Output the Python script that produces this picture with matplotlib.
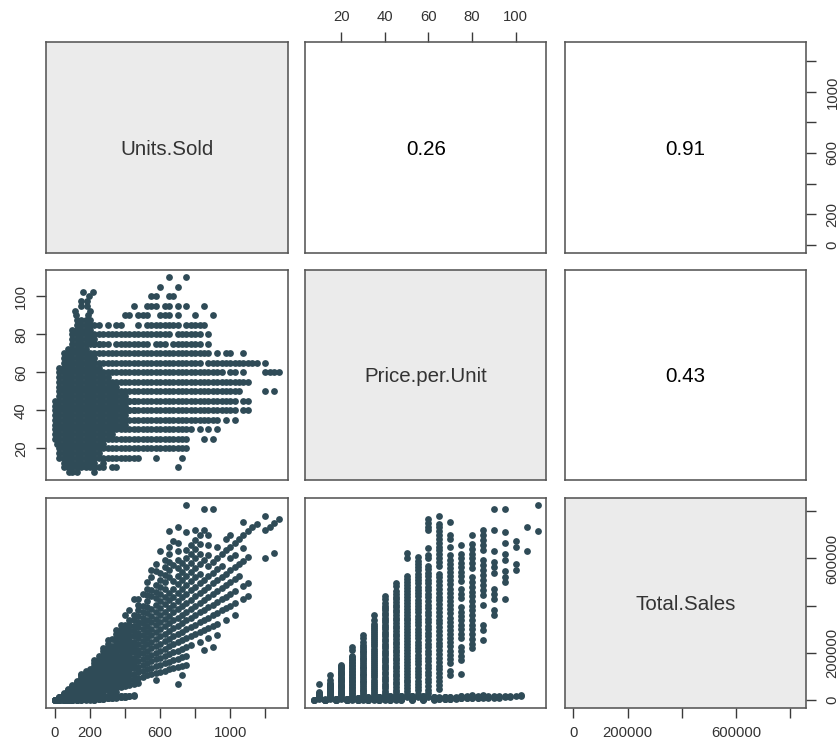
import matplotlib
matplotlib.use('Agg')
import matplotlib.pyplot as plt

plt.rcParams['font.family'] = ['Liberation Sans', 'DejaVu Sans']

# Rows: prices in steps of 5, sales on the fan
row_price = [10, 15, 20, 25, 30, 35, 40, 45, 50, 55, 60, 65, 70, 75, 80, 85, 90, 95, 100, 105, 110]

row_units = [
    [50, 75, 100, 125, 150, 175, 200, 225, 250, 275, 325, 350, 700],
    [25, 50, 75, 100, 125, 150, 175, 200, 225, 250, 275, 300, 325, 350, 375, 400, 425, 450, 475, 575, 725],
    [25, 50, 75, 100, 125, 150, 175, 200, 225, 250, 275, 300, 325, 350, 375, 400, 425, 450, 475, 500, 525, 550, 575, 600, 625, 650, 675, 700, 725, 750],
    [0, 25, 50, 75, 100, 125, 150, 175, 200, 225, 250, 275, 300, 325, 350, 375, 400, 425, 450, 475, 500, 525, 550, 575, 600, 625, 650, 675, 700, 725, 750, 850, 900],
    [0, 25, 50, 75, 100, 125, 150, 175, 200, 225, 250, 275, 300, 325, 350, 375, 400, 425, 450, 475, 500, 525, 550, 575, 600, 625, 650, 675, 700, 725, 750, 775, 825, 875, 925],
    [0, 25, 50, 75, 100, 125, 150, 175, 200, 225, 250, 275, 300, 325, 350, 375, 400, 425, 450, 475, 500, 525, 550, 575, 600, 625, 650, 675, 700, 725, 750, 775, 800, 825, 850, 875, 900, 925, 975, 1025],
    [0, 25, 50, 75, 100, 125, 150, 175, 200, 225, 250, 275, 300, 325, 350, 375, 400, 425, 450, 475, 500, 525, 550, 575, 600, 625, 650, 675, 700, 725, 750, 775, 800, 825, 850, 875, 900, 925, 950, 975, 1000, 1025, 1075, 1100],
    [0, 25, 50, 75, 100, 125, 150, 175, 200, 225, 250, 275, 300, 325, 350, 375, 400, 425, 450, 475, 500, 525, 550, 575, 600, 625, 650, 675, 700, 725, 750, 775, 800, 825, 850, 875, 900, 925, 950, 975, 1000, 1025, 1075, 1100],
    [25, 50, 75, 100, 125, 150, 175, 200, 225, 250, 275, 300, 325, 350, 375, 400, 425, 450, 475, 500, 525, 550, 575, 600, 625, 650, 675, 700, 725, 750, 775, 800, 825, 850, 875, 900, 925, 950, 975, 1000, 1025, 1050, 1200, 1250],
    [25, 50, 75, 100, 125, 150, 175, 200, 225, 250, 275, 300, 325, 350, 375, 400, 425, 450, 475, 500, 525, 550, 575, 600, 625, 650, 675, 700, 725, 750, 775, 800, 825, 850, 875, 900, 925, 950, 975, 1000, 1025, 1050, 1075, 1100],
    [25, 50, 75, 100, 125, 150, 175, 200, 225, 250, 275, 300, 325, 350, 375, 400, 425, 450, 475, 500, 525, 550, 575, 600, 625, 650, 675, 700, 725, 750, 775, 800, 825, 850, 875, 900, 925, 950, 1000, 1025, 1075, 1200, 1225, 1250, 1275],
    [75, 100, 125, 150, 175, 200, 225, 250, 275, 300, 325, 350, 375, 400, 425, 450, 475, 500, 525, 550, 575, 600, 625, 650, 675, 700, 725, 750, 775, 800, 825, 875, 900, 925, 950, 975, 1000, 1025, 1050, 1075, 1100, 1125, 1150, 1200],
    [150, 175, 225, 250, 275, 300, 325, 350, 375, 400, 425, 450, 475, 500, 525, 550, 575, 600, 625, 650, 675, 700, 725, 750, 775, 800, 825, 850, 875, 925, 975, 1000, 1075],
    [150, 225, 250, 275, 300, 350, 375, 400, 425, 450, 475, 500, 525, 575, 600, 625, 675, 700, 725, 750, 775, 800, 825, 875],
    [275, 300, 325, 350, 375, 400, 425, 450, 475, 500, 525, 550, 575, 600, 625, 650, 700, 725, 750, 775, 800, 825, 875],
    [300, 350, 375, 475, 525, 550, 575, 600, 625, 650, 675, 700, 750, 775, 800, 825, 850],
    [400, 425, 475, 500, 525, 600, 625, 650, 700, 800, 900],
    [450, 525, 550, 575, 625, 650, 700, 750, 850],
    [550, 575, 650, 675],
    [600, 700],
    [650, 750],
]

row_sales = [
    [5000, 7500, 10000, 12500, 15000, 17500, 20000, 22500, 25000, 27500, 32500, 35000, 70000],
    [3750, 7500, 11250, 15000, 18750, 22500, 26250, 30000, 33750, 37500, 41250, 45000, 48750, 52500, 56250, 60000, 63750, 67500, 71250, 86250, 108750],
    [5000, 10000, 15000, 20000, 25000, 30000, 35000, 40000, 45000, 50000, 55000, 60000, 65000, 70000, 75000, 80000, 85000, 90000, 95000, 100000, 105000, 110000, 115000, 120000, 125000, 130000, 135000, 140000, 145000, 150000],
    [0, 6250, 12500, 18750, 25000, 31250, 37500, 43750, 50000, 56250, 62500, 68750, 75000, 81250, 87500, 93750, 100000, 106250, 112500, 118750, 125000, 131250, 137500, 143750, 150000, 156250, 162500, 168750, 175000, 181250, 187500, 212500, 225000],
    [0, 7500, 15000, 22500, 30000, 37500, 45000, 52500, 60000, 67500, 75000, 82500, 90000, 97500, 105000, 112500, 120000, 127500, 135000, 142500, 150000, 157500, 165000, 172500, 180000, 187500, 195000, 202500, 210000, 217500, 225000, 232500, 247500, 262500, 277500],
    [0, 8750, 17500, 26250, 35000, 43750, 52500, 61250, 70000, 78750, 87500, 96250, 105000, 113750, 122500, 131250, 140000, 148750, 157500, 166250, 175000, 183750, 192500, 201250, 210000, 218750, 227500, 236250, 245000, 253750, 262500, 271250, 280000, 288750, 297500, 306250, 315000, 323750, 341250, 358750],
    [0, 10000, 20000, 30000, 40000, 50000, 60000, 70000, 80000, 90000, 100000, 110000, 120000, 130000, 140000, 150000, 160000, 170000, 180000, 190000, 200000, 210000, 220000, 230000, 240000, 250000, 260000, 270000, 280000, 290000, 300000, 310000, 320000, 330000, 340000, 350000, 360000, 370000, 380000, 390000, 400000, 410000, 430000, 440000],
    [0, 11250, 22500, 33750, 45000, 56250, 67500, 78750, 90000, 101250, 112500, 123750, 135000, 146250, 157500, 168750, 180000, 191250, 202500, 213750, 225000, 236250, 247500, 258750, 270000, 281250, 292500, 303750, 315000, 326250, 337500, 348750, 360000, 371250, 382500, 393750, 405000, 416250, 427500, 438750, 450000, 461250, 483750, 495000],
    [12500, 25000, 37500, 50000, 62500, 75000, 87500, 100000, 112500, 125000, 137500, 150000, 162500, 175000, 187500, 200000, 212500, 225000, 237500, 250000, 262500, 275000, 287500, 300000, 312500, 325000, 337500, 350000, 362500, 375000, 387500, 400000, 412500, 425000, 437500, 450000, 462500, 475000, 487500, 500000, 512500, 525000, 600000, 625000],
    [13750, 27500, 41250, 55000, 68750, 82500, 96250, 110000, 123750, 137500, 151250, 165000, 178750, 192500, 206250, 220000, 233750, 247500, 261250, 275000, 288750, 302500, 316250, 330000, 343750, 357500, 371250, 385000, 398750, 412500, 426250, 440000, 453750, 467500, 481250, 495000, 508750, 522500, 536250, 550000, 563750, 577500, 591250, 605000],
    [15000, 30000, 45000, 60000, 75000, 90000, 105000, 120000, 135000, 150000, 165000, 180000, 195000, 210000, 225000, 240000, 255000, 270000, 285000, 300000, 315000, 330000, 345000, 360000, 375000, 390000, 405000, 420000, 435000, 450000, 465000, 480000, 495000, 510000, 525000, 540000, 555000, 570000, 600000, 615000, 645000, 720000, 735000, 750000, 765000],
    [48750, 65000, 81250, 97500, 113750, 130000, 146250, 162500, 178750, 195000, 211250, 227500, 243750, 260000, 276250, 292500, 308750, 325000, 341250, 357500, 373750, 390000, 406250, 422500, 438750, 455000, 471250, 487500, 503750, 520000, 536250, 568750, 585000, 601250, 617500, 633750, 650000, 666250, 682500, 698750, 715000, 731250, 747500, 780000],
    [105000, 122500, 157500, 175000, 192500, 210000, 227500, 245000, 262500, 280000, 297500, 315000, 332500, 350000, 367500, 385000, 402500, 420000, 437500, 455000, 472500, 490000, 507500, 525000, 542500, 560000, 577500, 595000, 612500, 647500, 682500, 700000, 752500],
    [112500, 168750, 187500, 206250, 225000, 262500, 281250, 300000, 318750, 337500, 356250, 375000, 393750, 431250, 450000, 468750, 506250, 525000, 543750, 562500, 581250, 600000, 618750, 656250],
    [220000, 240000, 260000, 280000, 300000, 320000, 340000, 360000, 380000, 400000, 420000, 440000, 460000, 480000, 500000, 520000, 560000, 580000, 600000, 620000, 640000, 660000, 700000],
    [255000, 297500, 318750, 403750, 446250, 467500, 488750, 510000, 531250, 552500, 573750, 595000, 637500, 658750, 680000, 701250, 722500],
    [360000, 382500, 427500, 450000, 472500, 540000, 562500, 585000, 630000, 720000, 810000],
    [427500, 498750, 522500, 546250, 593750, 617500, 665000, 712500, 807500],
    [550000, 575000, 650000, 675000],
    [630000, 735000],
    [715000, 825000],
]

# Low band: the points that fill the solid blob but stay near zero sales
band_price = [7.5, 12.5, 17.5, 22.5, 27.5, 32.5, 37.5, 40, 42.5, 45, 47.5, 52.5, 57.5, 62.5, 65, 67.5, 70, 72.5, 75, 77.5, 80, 82.5, 85, 87.5, 90, 92.5, 95, 97.5, 100, 102.5]

band_units = [
    [80, 100, 125, 225],
    [50, 75, 100, 125, 150, 175, 200, 225, 275],
    [25, 50, 75, 100, 125, 150, 175, 200, 225, 250],
    [10, 25, 50, 75, 100, 125, 150, 175, 200, 225, 250, 275],
    [0, 25, 50, 75, 100, 125, 150, 175, 200, 225, 250, 275, 300, 325],
    [0, 25, 50, 75, 100, 125, 150, 175, 200, 225, 250, 275, 300, 325, 350, 375, 400],
    [0, 25, 50, 75, 100, 125, 150, 175, 200, 225, 250, 275, 300, 325, 350, 375, 400],
    [425, 450],
    [0, 25, 50, 75, 100, 125, 150, 175, 200, 225, 250, 275, 300, 325, 350, 375, 400],
    [425, 450],
    [25, 50, 75, 100, 125, 150, 175, 200, 225, 250, 275, 300, 325, 350, 375, 400],
    [25, 50, 75, 100, 125, 150, 175, 200, 225, 250, 275, 300, 325, 350],
    [25, 50, 75, 100, 125, 150, 175, 200, 225, 250, 275, 300],
    [25, 50, 75, 100, 125, 150, 175, 200, 225, 250],
    [50, 100, 150, 200],
    [50, 75, 100, 125, 150, 175, 200, 225],
    [50, 75, 100, 125, 150, 175, 200],
    [75, 100, 125, 150, 175],
    [100, 125, 150, 175, 200, 225, 250],
    [100, 125, 150, 175, 200, 225],
    [100, 125, 150, 175, 200, 225, 250],
    [100, 125, 150, 175, 200],
    [125, 150, 175, 200, 225, 250],
    [125, 150, 175, 200],
    [120, 190],
    [115, 200],
    [150, 185],
    [150, 180],
    [195],
    [160, 215],
]

band_sales = [
    [600, 750, 938, 1688],
    [625, 938, 1250, 1563, 1875, 2188, 2500, 2813, 3438],
    [438, 875, 1313, 1750, 2188, 2625, 3063, 3500, 3938, 4375],
    [225, 563, 1125, 1688, 2250, 2813, 3375, 3938, 4500, 5063, 5625, 6188],
    [0, 688, 1375, 2063, 2750, 3438, 4125, 4813, 5500, 6188, 6875, 7563, 8250, 8938],
    [0, 813, 1625, 2438, 3250, 4063, 4875, 5688, 6500, 7313, 8125, 8938, 9750, 10563, 11375, 12188, 13000],
    [0, 938, 1875, 2813, 3750, 4688, 5625, 6563, 7500, 8438, 9375, 10313, 11250, 12188, 13125, 14063, 15000],
    [17000, 18000],
    [0, 1063, 2125, 3188, 4250, 5313, 6375, 7438, 8500, 9563, 10625, 11688, 12750, 13813, 14875, 15938, 17000],
    [19125, 20250],
    [1188, 2375, 3563, 4750, 5938, 7125, 8313, 9500, 10688, 11875, 13063, 14250, 15438, 16625, 17813, 19000],
    [1313, 2625, 3938, 5250, 6563, 7875, 9188, 10500, 11813, 13125, 14438, 15750, 17063, 18375],
    [1438, 2875, 4313, 5750, 7188, 8625, 10063, 11500, 12938, 14375, 15813, 17250],
    [1563, 3125, 4688, 6250, 7813, 9375, 10938, 12500, 14063, 15625],
    [3250, 6500, 9750, 13000],
    [3375, 5063, 6750, 8438, 10125, 11813, 13500, 15188],
    [3500, 5250, 7000, 8750, 10500, 12250, 14000],
    [5438, 7250, 9063, 10875, 12688],
    [7500, 9375, 11250, 13125, 15000, 16875, 18750],
    [7750, 9688, 11625, 13563, 15500, 17438],
    [8000, 10000, 12000, 14000, 16000, 18000, 20000],
    [8250, 10313, 12375, 14438, 16500],
    [10625, 12750, 14875, 17000, 19125, 21250],
    [10938, 13125, 15313, 17500],
    [10800, 17100],
    [10638, 18500],
    [14250, 17575],
    [14625, 17550],
    [19500],
    [16400, 22038],
]

var_names = ['Units.Sold', 'Price.per.Unit', 'Total.Sales']
corr_12 = '0.26'
corr_13 = '0.91'
corr_23 = '0.43'

units_ticks = [0, 200, 400, 600, 800, 1000, 1200]
units_labels = ['0', '200', '', '600', '', '1000', '']
price_ticks = [20, 40, 60, 80, 100]
price_labels = ['20', '40', '60', '80', '100']
sales_ticks = [0, 200000, 400000, 600000, 800000]
sales_labels = ['0', '200000', '', '600000', '']

DOT = '#2f4b57'
BOX = '#555555'
TICK = '#3a3a3a'
TEXT = '#333333'
W, H = 840, 742

# flatten rows into the three columns
units, price, sales = [], [], []
for p, us, ss in zip(row_price + band_price, row_units + band_units, row_sales + band_sales):
    for u, s in zip(us, ss):
        units.append(u)
        price.append(p)
        sales.append(s)


def pad_range(vals):
    lo, hi = min(vals), max(vals)
    d = (hi - lo) * 0.04
    return lo - d, hi + d


def panel(col, row):
    x0 = [46, 305, 564.5][col]
    y0 = [42, 269.5, 497.5][row]
    ax = fig.add_axes([x0 / W, 1 - (y0 + 210.5) / H, 241.5 / W, 210.5 / H])
    ax.set_xticks([])
    ax.set_yticks([])
    for s in ax.spines.values():
        s.set_color(BOX)
        s.set_linewidth(1.15)
    return ax


def x_axis(ax, ticks, labels, top=False):
    ax.set_xticks(ticks)
    ax.set_xticklabels(labels, fontsize=10.7, color=TEXT)
    ax.tick_params(axis='x', length=7, width=1.0, color=TICK, pad=6,
                   top=top, labeltop=top, bottom=not top, labelbottom=not top)


def y_axis(ax, ticks, labels, right=False):
    ax.set_yticks(ticks)
    ax.set_yticklabels(labels, fontsize=10.7, color=TEXT, rotation=90, va='center')
    ax.tick_params(axis='y', length=7, width=1.0, color=TICK, pad=7 if right else 6,
                   right=right, labelright=right, left=not right, labelleft=not right)


fig = plt.figure(figsize=(W / 100, H / 100), dpi=100)
ulim, plim, slim = pad_range(units), pad_range(price), pad_range(sales)
limits = [ulim, plim, slim]

# diagonal
for i, name in enumerate(var_names):
    ax = panel(i, i)
    ax.set_facecolor('#ebebeb')
    ax.set_xlim(limits[i])
    ax.set_ylim(limits[i])
    ax.text(0.5, 0.49, name, transform=ax.transAxes, ha='center', va='center',
            fontsize=14.8, color=TEXT)

# upper triangle, correlations
for (c, r, txt) in [(1, 0, corr_12), (2, 0, corr_13), (2, 1, corr_23)]:
    ax = panel(c, r)
    ax.set_xlim(limits[c])
    ax.set_ylim(limits[r])
    ax.text(0.5, 0.49, txt, transform=ax.transAxes, ha='center', va='center',
            fontsize=14.8, color='black')
    if r == 0 and c == 1:
        x_axis(ax, price_ticks, price_labels, top=True)
    if r == 0 and c == 2:
        y_axis(ax, units_ticks, units_labels, right=True)

# lower triangle, scatters
for (c, r, xs, ys) in [(0, 1, units, price), (0, 2, units, sales), (1, 2, price, sales)]:
    ax = panel(c, r)
    ax.scatter(xs, ys, s=24, color=DOT, linewidths=0)
    ax.set_xlim(limits[c])
    ax.set_ylim(limits[r])
    if c == 0 and r == 1:
        y_axis(ax, price_ticks, price_labels)
    if c == 0 and r == 2:
        x_axis(ax, units_ticks, units_labels)

ax = fig.axes[2]  # Total.Sales diagonal gets the two outer axes
x_axis(ax, sales_ticks, sales_labels)
y_axis(ax, sales_ticks, sales_labels, right=True)

fig.savefig('out.png', dpi=100)
plt.close(fig)
